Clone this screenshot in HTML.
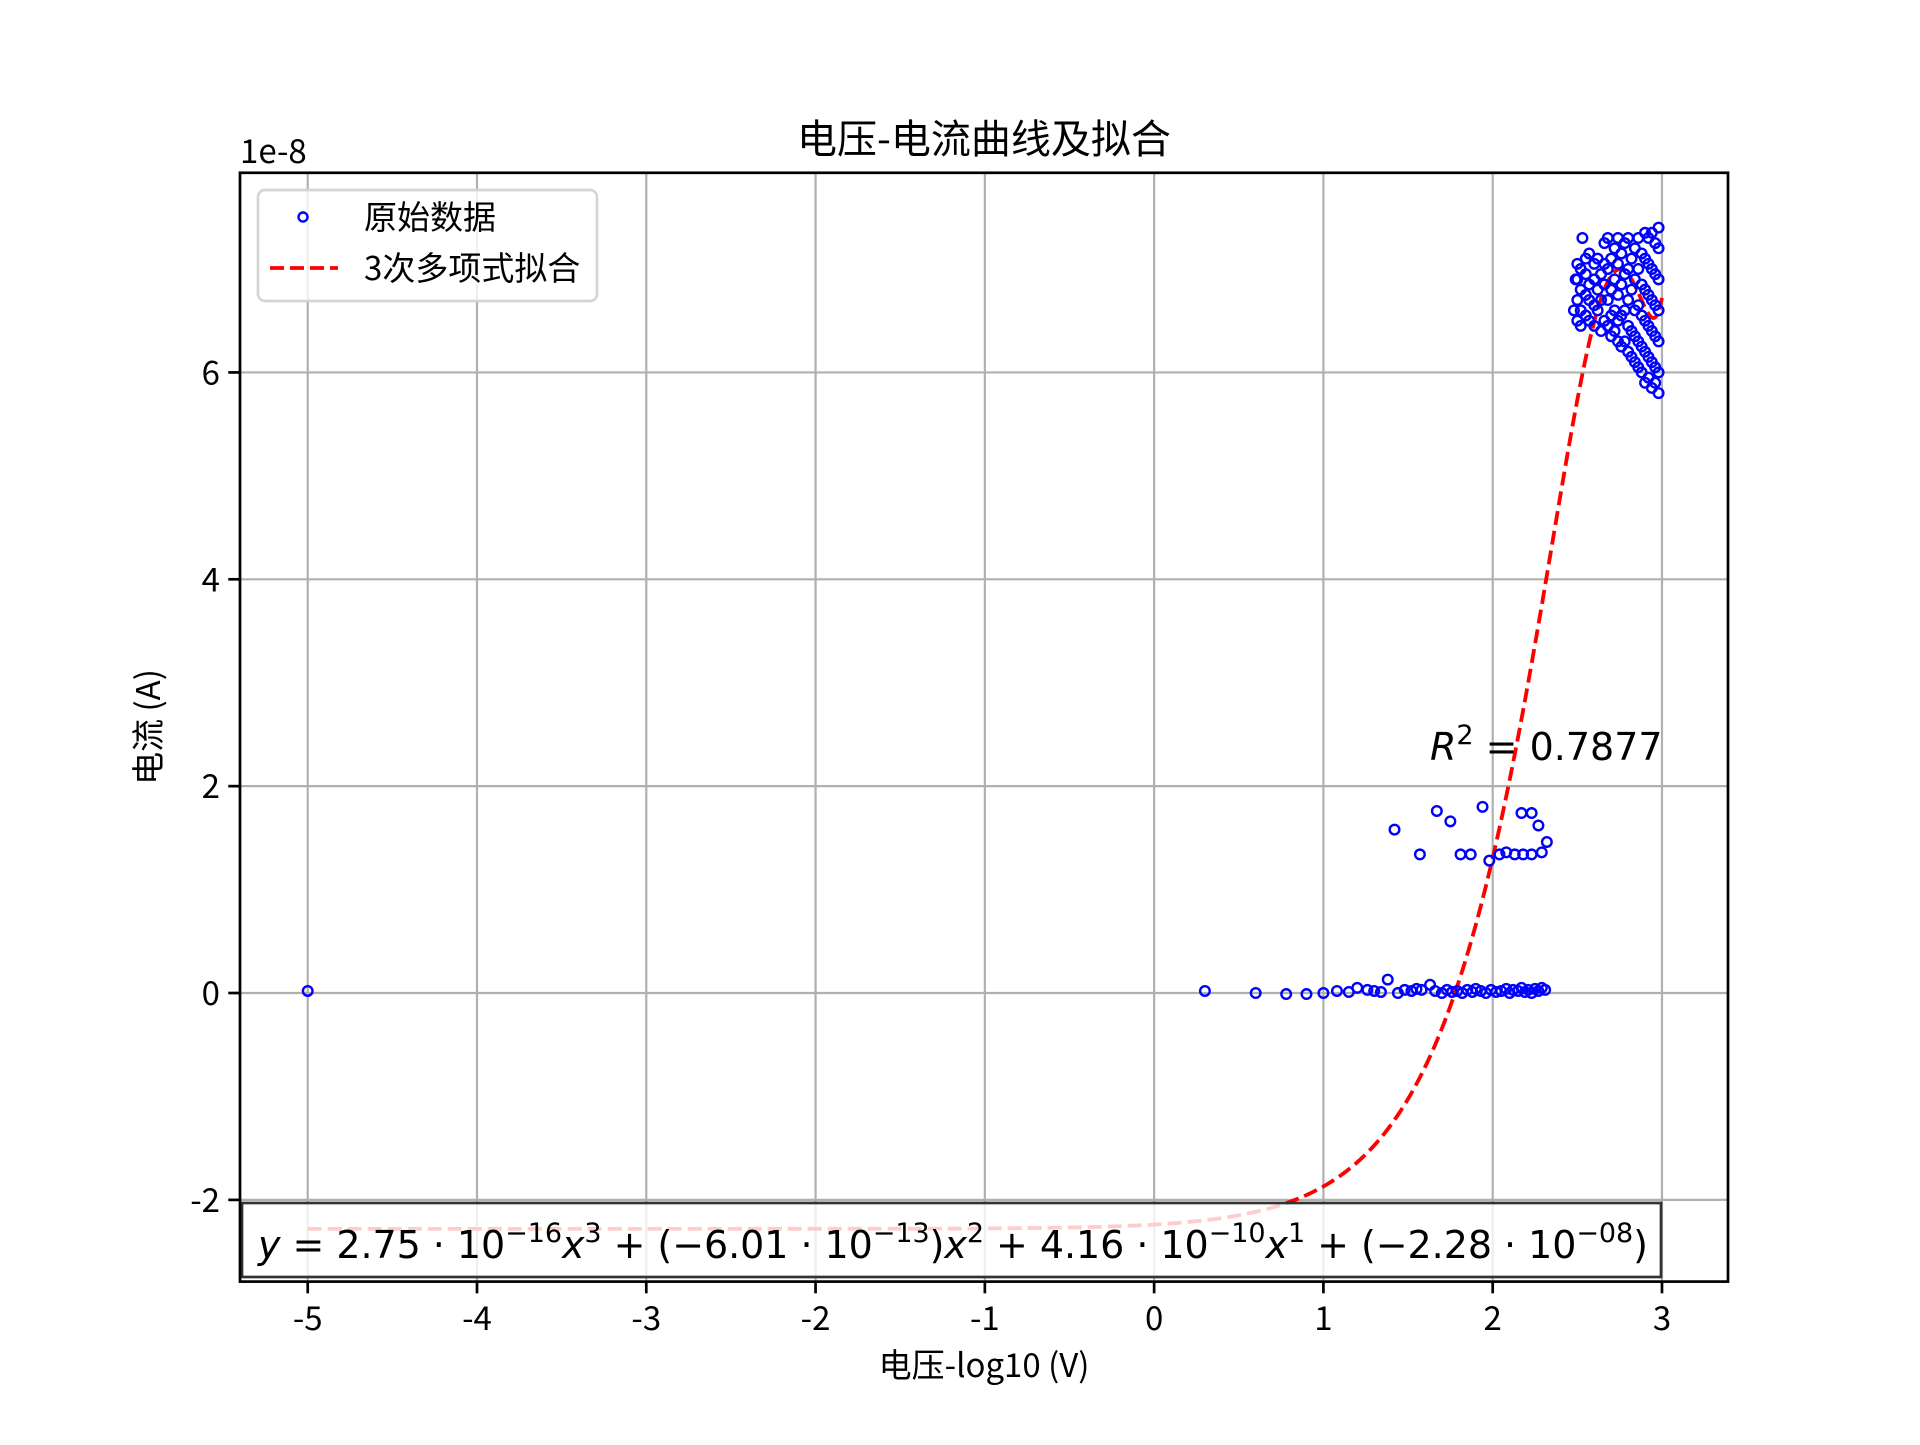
<!DOCTYPE html>
<html><head><meta charset="utf-8"><style>
html,body{margin:0;padding:0;background:#fff}
svg text{font-family:"Noto Sans CJK SC","Liberation Sans",sans-serif;fill:#000}
svg text.math{font-family:"DejaVu Sans","Liberation Sans",sans-serif}
</style></head><body>
<svg id="chart" width="1920" height="1440" viewBox="0 0 1920 1440" xmlns="http://www.w3.org/2000/svg">
<rect width="1920" height="1440" fill="#fff"/>
<g id="grid"></g>
<g id="fitg"></g>
<g id="pts"></g>
<g id="eqbox">
<rect x="242" y="1203" width="1419" height="74" fill="#fff" fill-opacity="0.8" stroke="#333" stroke-width="2.7"/>
<text class="math" x="258" y="1258" font-size="38" textLength="1390" lengthAdjust="spacing"><tspan font-style="italic">y</tspan> = 2.75 · 10<tspan dy="-16" font-size="27">−16</tspan><tspan dy="16" font-style="italic">x</tspan><tspan dy="-16" font-size="27">3</tspan><tspan dy="16"> + (−6.01 · 10</tspan><tspan dy="-16" font-size="27">−13</tspan><tspan dy="16">)</tspan><tspan font-style="italic">x</tspan><tspan dy="-16" font-size="27">2</tspan><tspan dy="16"> + 4.16 · 10</tspan><tspan dy="-16" font-size="27">−10</tspan><tspan dy="16" font-style="italic">x</tspan><tspan dy="-16" font-size="27">1</tspan><tspan dy="16"> + (−2.28 · 10</tspan><tspan dy="-16" font-size="27">−08</tspan><tspan dy="16">)</tspan></text>
</g>
<g id="axes"></g>
<text class="math" x="1430" y="760" font-size="38"><tspan font-style="italic">R</tspan><tspan dy="-16" font-size="27">2</tspan><tspan dy="16"> = 0.7877</tspan></text>
<text x="984" y="153" font-size="40" text-anchor="middle">电压-电流曲线及拟合</text>
<text x="240" y="163" font-size="33">1e-8</text>
<text x="984" y="1377" font-size="33" text-anchor="middle">电压-log10 (V)</text>
<text x="0" y="0" font-size="33" text-anchor="middle" transform="translate(160,727) rotate(-90)">电流 (A)</text>
<g>
<rect x="258" y="190" width="339" height="111" rx="7" fill="#fff" fill-opacity="0.8" stroke="#d5d5d5" stroke-width="2.7"/>
<circle cx="303" cy="217" r="4.5" fill="none" stroke="#00f" stroke-width="2.4"/>
<text x="364" y="229" font-size="33">原始数据</text>
<line x1="270" y1="268" x2="338" y2="268" stroke="#f00" stroke-width="3.8" stroke-dasharray="14,6"/>
<text x="364" y="280" font-size="33">3次多项式拟合</text>
</g>
</svg>
<script>
const xTicks=[-5,-4,-3,-2,-1,0,1,2,3];
const yTicks=[-2,0,2,4,6];
const fitCoef=[2.75e-16,-6.01e-13,4.16e-10,-2.28e-8];
const rawX=[-5,0.30,0.60,0.78,0.90,1.00,1.08,1.15,1.20,1.26,1.30,1.34,1.38,1.44,1.48,1.52,1.55,1.58,1.63,1.66,1.70,1.73,1.76,1.79,1.82,1.85,1.88,1.90,1.93,1.96,1.99,2.02,2.05,2.08,2.10,2.12,2.15,2.17,2.19,2.21,2.23,2.25,2.27,2.29,2.31,
1.42,1.57,1.67,1.75,1.81,1.87,1.94,1.98,2.04,2.08,2.13,2.17,2.18,2.23,2.23,2.27,2.29,2.32,
2.48,2.49,2.50,2.50,2.50,2.50,2.52,2.52,2.52,2.52,2.53,2.55,2.55,2.55,2.55,2.57,2.57,2.57,2.57,2.60,2.60,2.60,2.60,2.62,2.62,2.62,2.64,2.64,2.64,2.66,2.66,2.66,2.66,2.68,2.68,2.68,2.68,2.70,2.70,2.70,2.70,2.72,2.72,2.72,2.72,2.74,2.74,2.74,2.74,2.74,2.76,2.76,2.76,2.76,2.78,2.78,2.78,2.78,2.80,2.80,2.80,2.80,2.80,2.82,2.82,2.82,2.82,2.84,2.84,2.84,2.84,2.84,2.86,2.86,2.86,2.86,2.86,2.88,2.88,2.88,2.88,2.88,2.90,2.90,2.90,2.90,2.90,2.90,2.92,2.92,2.92,2.92,2.92,2.92,2.94,2.94,2.94,2.94,2.94,2.94,2.96,2.96,2.96,2.96,2.96,2.96,2.98,2.98,2.98,2.98,2.98,2.98,2.98];
const rawY=[0.02,0.02,0.0,-0.01,-0.01,0.0,0.02,0.01,0.05,0.03,0.02,0.01,0.13,0.0,0.03,0.02,0.04,0.03,0.08,0.02,0.0,0.03,0.01,0.02,0.0,0.03,0.01,0.04,0.02,0.0,0.03,0.01,0.02,0.04,0.0,0.03,0.02,0.05,0.01,0.03,0.0,0.04,0.02,0.05,0.03,
1.58,1.34,1.76,1.66,1.34,1.34,1.80,1.28,1.34,1.36,1.34,1.74,1.34,1.74,1.34,1.62,1.36,1.46,
6.6,6.9,6.5,6.7,6.9,7.05,6.45,6.6,6.8,7.0,7.3,6.55,6.75,6.95,7.1,6.5,6.7,6.85,7.15,6.45,6.65,6.9,7.05,6.6,6.8,7.1,6.4,6.7,6.95,6.5,6.85,7.05,7.25,6.45,6.7,7.0,7.3,6.35,6.55,6.8,7.1,6.4,6.6,6.9,7.2,6.3,6.5,6.75,7.05,7.3,6.25,6.55,6.85,7.15,6.3,6.6,6.95,7.25,6.2,6.45,6.7,7.0,7.3,6.15,6.4,6.8,7.1,6.1,6.35,6.6,6.9,7.2,6.05,6.3,6.65,7.0,7.3,6.0,6.25,6.55,6.85,7.15,5.9,6.2,6.5,6.8,7.1,7.35,5.95,6.15,6.45,6.75,7.05,7.3,5.85,6.1,6.4,6.7,7.0,7.35,5.9,6.05,6.35,6.65,6.95,7.25,5.8,6.0,6.3,6.6,6.9,7.2,7.4];
const NS='http://www.w3.org/2000/svg';
const L=240,R=1728,T=172.8,B=1281.6,XMIN=-5.4,XMAX=3.39,YMIN=-2.79,YMAX=7.93;
function X(v){return L+(v-XMIN)/(XMAX-XMIN)*(R-L);}
function Y(v){return T+(YMAX-v)/(YMAX-YMIN)*(B-T);}
function mk(tag,attrs,parent){const e=document.createElementNS(NS,tag);for(const k in attrs)e.setAttribute(k,attrs[k]);parent.appendChild(e);return e;}
const grid=document.getElementById('grid'),axes=document.getElementById('axes');
xTicks.forEach(t=>{
 const g=mk('line',{x1:X(t),x2:X(t),y1:T,y2:B,stroke:'#b0b0b0','stroke-width':2.2},grid);
 
 
 const tk=mk('line',{x1:X(t),x2:X(t),y1:B,y2:B+11.7,stroke:'#000','stroke-width':2.7},axes);
 
 
 const lb=mk('text',{x:X(t),y:1330,'font-size':33,'text-anchor':'middle'},axes);
 lb.textContent=String(t);
 
 
});
yTicks.forEach(t=>{
 const g=mk('line',{x1:L,x2:R,y1:Y(t),y2:Y(t),stroke:'#b0b0b0','stroke-width':2.2},grid);
 
 
 const tk=mk('line',{x1:L-11.7,x2:L,y1:Y(t),y2:Y(t),stroke:'#000','stroke-width':2.7},axes);
 
 
 const lb=mk('text',{x:L-20,y:Y(t)+12,'font-size':33,'text-anchor':'end'},axes);
 lb.textContent=String(t);
 
 
});
const fr=mk('rect',{x:L,y:T,width:R-L,height:B-T,fill:'none',stroke:'#000','stroke-width':2.7},axes);


let d='';
for(let i=0;i<=800;i++){
 const x=-5+8*i/800, V=Math.pow(10,x);
 const y=(fitCoef[0]*V*V*V+fitCoef[1]*V*V+fitCoef[2]*V+fitCoef[3])/1e-8;
 d+=(i?'L':'M')+X(x).toFixed(2)+','+Y(y).toFixed(2);
}
const fp=mk('path',{d:d,fill:'none',stroke:'#f00','stroke-width':3.8,'stroke-dasharray':'14,6'},document.getElementById('fitg'));


const pts=document.getElementById('pts');
rawX.forEach((x,i)=>{
 const c=mk('circle',{cx:X(x),cy:Y(rawY[i]),r:4.8,fill:'none',stroke:'#00f','stroke-width':2.4},pts);
 
 
});
const svg=document.getElementById('chart');
svg.insertBefore(document.getElementById('eqbox'),document.getElementById('axes'));
</script>
</body></html>
